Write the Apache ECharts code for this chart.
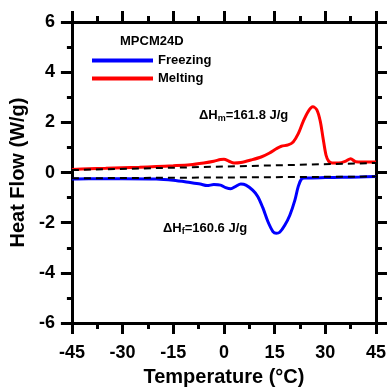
<!DOCTYPE html>
<html>
<head>
<meta charset="utf-8">
<script src="https://cdn.jsdelivr.net/npm/echarts@6/dist/echarts.min.js"></script>
<style>html,body{margin:0;padding:0;background:#fff;}#c{width:389px;height:392px;}</style>
</head>
<body>
<div id="c"></div>
<script>
// Tick settings
const xTicks = { min: -45, max: 45, interval: 15 };
const yTicks = { min: -6, max: 6, interval: 2 };

// Melting (red) curve: temperature (°C), heat flow (W/g)
const meltT = [-45,-40,-35,-30,-25,-20,-15,-10,-6,-3,-1,0,1.5,3,5,8,11,13.5,15.5,17,19,20.5,22,23.5,25,26.3,27.5,28.5,29.3,30.2,31,32,34,36,37.5,39,41,45];
const meltY = [0.12,0.15,0.17,0.19,0.21,0.24,0.27,0.31,0.38,0.45,0.52,0.53,0.45,0.38,0.40,0.50,0.62,0.78,0.95,1.05,1.10,1.22,1.55,2.05,2.45,2.62,2.50,2.05,1.40,0.70,0.45,0.38,0.38,0.45,0.55,0.43,0.42,0.42];

// Freezing (blue) curve
const freezeT = [-45,-40,-30,-20,-15,-10,-7,-5,-3,-1,0.5,2,3.5,5,6.5,8.5,10,11.5,13,14.5,15.5,16.5,18,19.5,21,22,23,24,30,35,40,45];
const freezeY = [-0.26,-0.25,-0.25,-0.26,-0.31,-0.40,-0.46,-0.52,-0.48,-0.50,-0.60,-0.65,-0.55,-0.46,-0.50,-0.70,-0.95,-1.40,-1.95,-2.35,-2.42,-2.38,-2.10,-1.70,-1.10,-0.55,-0.25,-0.22,-0.20,-0.19,-0.18,-0.16];

// Dashed baselines
const baseMeltT = [-45, 45];
const baseMeltY = [0.10, 0.38];
const baseFreezeT = [-45, 45];
const baseFreezeY = [-0.23, -0.16];

const zip = (a, b) => a.map((v, i) => [v, b[i]]);
const FONT = 'Liberation Sans, Arial, sans-serif';

const chart = echarts.init(document.getElementById('c'));
const axLine = { onZero: false, lineStyle: { color: '#000', width: 3 } };
const tick = (show, len) => ({ show, inside: false, length: len, lineStyle: { color: '#000', width: 3 } });
const minor = { show: true, splitNumber: 2, length: 6, lineStyle: { color: '#000', width: 3 } };
const subRich = {
  a: { fontFamily: FONT, fontWeight: 'bold', fontSize: 13, fill: '#000' },
  s: { fontFamily: FONT, fontWeight: 'bold', fontSize: 9, fill: '#000', verticalAlign: 'bottom', padding: [6, 0, 0, 0] }
};

chart.setOption({
  animation: false,
  backgroundColor: '#fff',
  grid: { left: 71, right: 12, top: 22, bottom: 64, containLabel: false },
  title: {
    text: 'MPCM24D', left: 120, top: 35, padding: 0,
    textStyle: { fontFamily: FONT, fontWeight: 'bold', fontSize: 13, color: '#000' }
  },
  legend: {
    orient: 'vertical', left: 92, top: 54, itemGap: 5, padding: 0,
    itemWidth: 61, itemHeight: 4, icon: 'rect',
    textStyle: { fontFamily: FONT, fontWeight: 'bold', fontSize: 13, color: '#000' },
    data: ['Freezing', 'Melting']
  },
  xAxis: [
    {
      type: 'value', position: 'bottom', ...xTicks,
      axisLine: axLine, axisTick: tick(true, 11), minorTick: minor, splitLine: { show: false },
      axisLabel: { fontFamily: FONT, fontWeight: 'bold', fontSize: 18, color: '#000', margin: 21 },
      name: 'Temperature (°C)', nameLocation: 'middle', nameGap: 40,
      nameTextStyle: { fontFamily: FONT, fontWeight: 'bold', fontSize: 20, color: '#000' }
    },
    {
      type: 'value', position: 'top', ...xTicks,
      axisLine: axLine, axisTick: tick(true, 11), minorTick: minor, splitLine: { show: false },
      axisLabel: { show: false }
    }
  ],
  yAxis: [
    {
      type: 'value', position: 'left', ...yTicks,
      axisLine: axLine, axisTick: tick(true, 11), minorTick: { ...minor, length: 5 }, splitLine: { show: false },
      axisLabel: { fontFamily: FONT, fontWeight: 'bold', fontSize: 18, color: '#000', margin: 17 },
      name: 'Heat Flow (W/g)', nameLocation: 'middle', nameGap: 38,
      nameTextStyle: { fontFamily: FONT, fontWeight: 'bold', fontSize: 20, color: '#000' }
    },
    {
      type: 'value', position: 'right', ...yTicks,
      axisLine: axLine, axisTick: tick(true, 11), minorTick: { ...minor, length: 6 }, splitLine: { show: false },
      axisLabel: { show: false }
    }
  ],
  series: [
    {
      name: 'Freezing', type: 'line', data: zip(freezeT, freezeY), smooth: 0.3, showSymbol: false,
      lineStyle: { color: '#0000ff', width: 3 }, itemStyle: { color: '#0000ff' }, z: 3
    },
    {
      name: 'Melting', type: 'line', data: zip(meltT, meltY), smooth: 0.3, showSymbol: false,
      lineStyle: { color: '#ff0000', width: 3 }, itemStyle: { color: '#ff0000' }, z: 3
    },
    {
      name: 'baseM', type: 'line', data: zip(baseMeltT, baseMeltY), showSymbol: false,
      lineStyle: { color: '#000', width: 2, type: [7, 5] }, z: 4
    },
    {
      name: 'baseF', type: 'line', data: zip(baseFreezeT, baseFreezeY), showSymbol: false,
      lineStyle: { color: '#000', width: 2, type: [7, 5] }, z: 4
    }
  ],
  graphic: [
    {
      type: 'text', left: 199, top: 109, z: 10,
      style: { text: '{a|ΔH}{s|m}{a|=161.8 J/g}', rich: subRich }
    },
    {
      type: 'text', left: 163, top: 222, z: 10,
      style: { text: '{a|ΔH}{s|f}{a|=160.6 J/g}', rich: subRich }
    }
  ]
});
</script>
</body>
</html>
